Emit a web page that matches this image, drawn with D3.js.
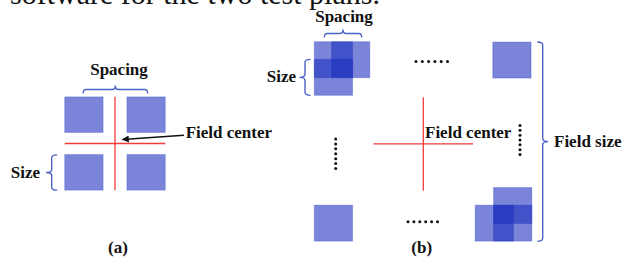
<!DOCTYPE html>
<html>
<head>
<meta charset="utf-8">
<script src="https://cdn.jsdelivr.net/npm/d3@7"></script>
<style>
  html, body { margin: 0; padding: 0; background: #fff; }
  svg { display: block; }
</style>
</head>
<body>
<svg id="chart" width="622" height="257"></svg>
<script>
// ---------- data (unit = one square's side) ----------
const captionText = "software for the two test plans.";
const panelLabels = ["(a)", "(b)"];
// panel (a): square centres relative to field centre
const squaresA = [[-0.81, -0.81], [0.81, -0.81], [-0.81, 0.81], [0.81, 0.81]];
// panel (b): square top-left corners in field units
const squaresB = [
  [0, 0], [0.45, 0], [0, 0.49],          // top-left overlapped group
  [4.66, 0.01],                          // top-right
  [0, 4.54],                             // bottom-left
  [4.68, 4.05], [4.2, 4.54], [4.68, 4.54] // bottom-right overlapped group
];
const crossA = { cx: 0, cy: 0, half: 1.31 };
const crossB = { cx: 2.846, cy: 2.84, half: 1.3 };
const labelsA = { spacing: "Spacing", size: "Size", center: "Field center" };
const labelsB = { spacing: "Spacing", size: "Size", center: "Field center", fieldSize: "Field size" };

// ---------- scales ----------
const xA = d3.scaleLinear().domain([0, 1]).range([115, 153.4]);
const yA = d3.scaleLinear().domain([0, 1]).range([143.5, 179.1]);
const xB = d3.scaleLinear().domain([0, 1]).range([314.3, 352.6]);
const yB = d3.scaleLinear().domain([0, 1]).range([41.7, 77.7]);

const svg = d3.select("#chart");
const fillCol = "rgb(25,45,190)";
const fillOp = 0.58;
const braceCol = "#4e62c8";
const redCol = "#f23a3a";
const labelFont = "'Liberation Serif', 'Times New Roman', serif";

// caption (clipped at top, as in the source image)
svg.append("text").attr("x", 10).attr("y", 4)
  .attr("font-family", labelFont).attr("font-size", 30).attr("fill", "#111")
  .text(captionText);

function square(sel, x, y, w, h) {
  sel.append("rect").attr("x", x).attr("y", y).attr("width", w).attr("height", h)
    .attr("fill", fillCol).attr("fill-opacity", fillOp)
    .attr("stroke", fillCol).attr("stroke-opacity", 0.25).attr("stroke-width", 1);
}

// ---------- panel (a) ----------
const gA = svg.append("g");
squaresA.forEach(([cx, cy]) => {
  square(gA, xA(cx - 0.5), yA(cy - 0.5), xA(1) - xA(0), yA(1) - yA(0));
});
gA.append("line").attr("x1", xA(crossA.cx)).attr("x2", xA(crossA.cx))
  .attr("y1", yA(-crossA.half)).attr("y2", yA(crossA.half))
  .attr("stroke", redCol).attr("stroke-width", 1.3);
gA.append("line").attr("y1", yA(crossA.cy)).attr("y2", yA(crossA.cy))
  .attr("x1", xA(-crossA.half)).attr("x2", xA(crossA.half))
  .attr("stroke", redCol).attr("stroke-width", 1.3);

// brace helpers
function hBrace(g, x1, x2, y, d) { // tip up, ends down by d
  const m = (x1 + x2) / 2, r = 3;
  const p = `M${x1},${y + d} Q${x1},${y} ${x1 + r},${y} L${m - r},${y} Q${m},${y} ${m},${y - d}` +
            ` Q${m},${y} ${m + r},${y} L${x2 - r},${y} Q${x2},${y} ${x2},${y + d}`;
  g.append("path").attr("d", p).attr("fill", "none").attr("stroke", braceCol).attr("stroke-width", 1.4);
}
function vBrace(g, x, y1, y2, d, dir) { // dir=-1 tip left, +1 tip right
  const m = (y1 + y2) / 2, r = 3;
  const p = `M${x - dir * d},${y1} Q${x},${y1} ${x},${y1 + r} L${x},${m - r} Q${x},${m} ${x + dir * d},${m}` +
            ` Q${x},${m} ${x},${m + r} L${x},${y2 - r} Q${x},${y2} ${x - dir * d},${y2}`;
  g.append("path").attr("d", p).attr("fill", "none").attr("stroke", braceCol).attr("stroke-width", 1.4);
}
function label(g, x, y, t, anchor, size) {
  g.append("text").attr("x", x).attr("y", y).attr("text-anchor", anchor || "start")
    .attr("font-family", labelFont).attr("font-weight", "bold").attr("font-size", size || 17)
    .attr("fill", "#111").text(t);
}

hBrace(gA, xA(-0.83), xA(0.85), 89.5, 4);
label(gA, 119, 75, labelsA.spacing, "middle");
vBrace(gA, 51.7, yA(0.32), yA(1.31), 5.5, -1);
label(gA, 40, 178, labelsA.size, "end");
label(gA, 185.7, 137.5, labelsA.center, "start");
// arrow
svg.append("defs").append("marker").attr("id", "ah").attr("viewBox", "0 0 10 10")
  .attr("refX", 9).attr("refY", 5).attr("markerWidth", 9).attr("markerHeight", 7)
  .attr("markerUnits", "userSpaceOnUse").attr("orient", "auto")
  .append("path").attr("d", "M0,0 L10,5 L0,10 Z").attr("fill", "#111");
gA.append("line").attr("x1", 184).attr("y1", 135.2).attr("x2", 122.5).attr("y2", 139.5)
  .attr("stroke", "#111").attr("stroke-width", 1.5).attr("marker-end", "url(#ah)");
label(gA, 118, 253, panelLabels[0], "middle");

// ---------- panel (b) ----------
const gB = svg.append("g");
squaresB.forEach(([x, y]) => {
  square(gB, xB(x), yB(y), xB(1) - xB(0), yB(1) - yB(0));
});
gB.append("line").attr("x1", xB(crossB.cx)).attr("x2", xB(crossB.cx))
  .attr("y1", yB(crossB.cy - crossB.half)).attr("y2", yB(crossB.cy + crossB.half))
  .attr("stroke", redCol).attr("stroke-width", 1.3);
gB.append("line").attr("y1", yB(crossB.cy)).attr("y2", yB(crossB.cy))
  .attr("x1", xB(crossB.cx - crossB.half)).attr("x2", xB(crossB.cx + crossB.half))
  .attr("stroke", redCol).attr("stroke-width", 1.3);

hBrace(gB, 324.3, 361.7, 33.5, 4);
label(gB, 344, 21.5, labelsB.spacing, "middle");
vBrace(gB, 305, yB(0.49), yB(1.49), 5.5, -1);
label(gB, 296, 81.5, labelsB.size, "end");
label(gB, 425, 137.5, labelsB.center, "start");
vBrace(gB, 542.7, yB(0.01), yB(5.54), 5.5, 1);
label(gB, 554, 146.7, labelsB.fieldSize, "start");
label(gB, 421.7, 253, panelLabels[1], "middle");

// ellipsis dots
function hDots(g, x1, x2, y, n) {
  d3.range(n).forEach(i => g.append("circle").attr("cx", x1 + (x2 - x1) * i / (n - 1)).attr("cy", y)
    .attr("r", 1.5).attr("fill", "#111"));
}
function vDots(g, x, y1, y2, n) {
  d3.range(n).forEach(i => g.append("circle").attr("cx", x).attr("cy", y1 + (y2 - y1) * i / (n - 1))
    .attr("r", 1.5).attr("fill", "#111"));
}
hDots(gB, 416, 447.5, 61.5, 6);
hDots(gB, 408, 437.5, 221.7, 6);
vDots(gB, 335.7, 139, 168.5, 7);
vDots(gB, 520, 125.5, 154.5, 7);
</script>
</body>
</html>
